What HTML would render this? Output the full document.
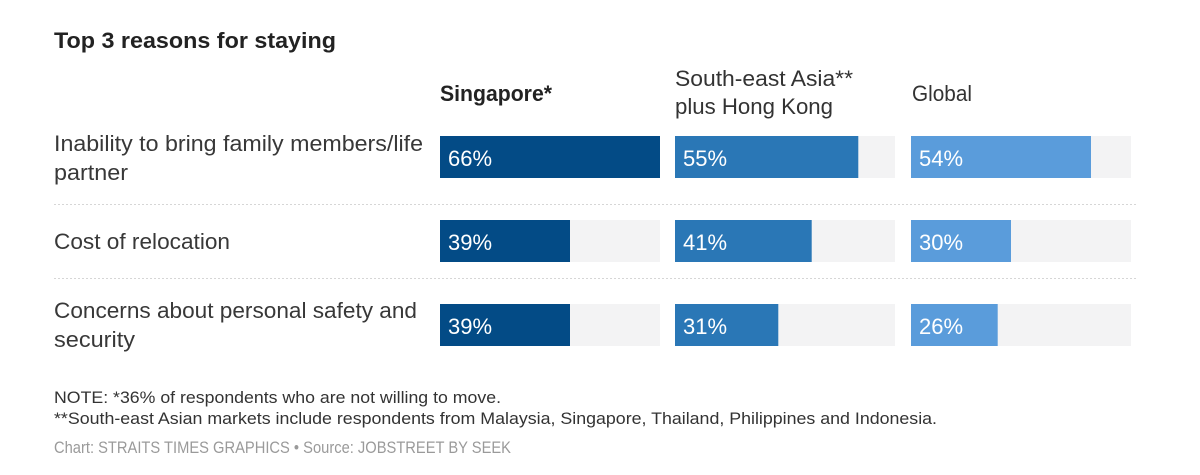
<!DOCTYPE html>
<html>
<head>
<meta charset="utf-8">
<style>
  html, body { margin: 0; padding: 0; background: #ffffff; }
  body { width: 1200px; height: 475px; overflow: hidden; }
  svg { display: block; }
  text { font-family: "Liberation Sans", Arial, sans-serif; }
</style>
</head>
<body>
<svg width="1200" height="475" viewBox="0 0 1200 475" xmlns="http://www.w3.org/2000/svg">
  <rect x="0" y="0" width="1200" height="475" fill="#ffffff"/>

  <!-- Title -->
  <text x="54" y="48" font-size="22" font-weight="bold" fill="#222222" textLength="282" lengthAdjust="spacingAndGlyphs">Top 3 reasons for staying</text>

  <!-- Column headers -->
  <text x="440" y="101" font-size="22" font-weight="bold" fill="#222222" textLength="112" lengthAdjust="spacingAndGlyphs">Singapore*</text>
  <text x="675" y="86" font-size="22" fill="#333333" textLength="178" lengthAdjust="spacingAndGlyphs">South-east Asia**</text>
  <text x="675" y="114" font-size="22" fill="#333333" textLength="158" lengthAdjust="spacingAndGlyphs">plus Hong Kong</text>
  <text x="912" y="101" font-size="22" fill="#333333" textLength="60" lengthAdjust="spacingAndGlyphs">Global</text>

  <!-- Row labels -->
  <text x="54" y="151" font-size="22" fill="#383838" textLength="369" lengthAdjust="spacingAndGlyphs">Inability to bring family members/life</text>
  <text x="54" y="180" font-size="22" fill="#383838" textLength="74" lengthAdjust="spacingAndGlyphs">partner</text>
  <text x="54" y="249" font-size="22" fill="#383838" textLength="176" lengthAdjust="spacingAndGlyphs">Cost of relocation</text>
  <text x="54" y="318" font-size="22" fill="#383838" textLength="363" lengthAdjust="spacingAndGlyphs">Concerns about personal safety and</text>
  <text x="54" y="347" font-size="22" fill="#383838" textLength="81" lengthAdjust="spacingAndGlyphs">security</text>

  <!-- Separators -->
  <line x1="54" y1="204.5" x2="1138" y2="204.5" stroke="#d6d6d6" stroke-width="1" stroke-dasharray="2 2"/>
  <line x1="54" y1="278.5" x2="1138" y2="278.5" stroke="#d6d6d6" stroke-width="1" stroke-dasharray="2 2"/>

  <!-- Tracks -->
  <g fill="#f3f3f4">
    <rect x="440" y="136" width="220" height="42"/>
    <rect x="675" y="136" width="220" height="42"/>
    <rect x="911" y="136" width="220" height="42"/>
    <rect x="440" y="220" width="220" height="42"/>
    <rect x="675" y="220" width="220" height="42"/>
    <rect x="911" y="220" width="220" height="42"/>
    <rect x="440" y="304" width="220" height="42"/>
    <rect x="675" y="304" width="220" height="42"/>
    <rect x="911" y="304" width="220" height="42"/>
  </g>

  <!-- Singapore bars -->
  <g fill="#034b86">
    <rect x="440" y="136" width="220" height="42"/>
    <rect x="440" y="220" width="130" height="42"/>
    <rect x="440" y="304" width="130" height="42"/>
  </g>
  <!-- SEA bars -->
  <g fill="#2a77b6">
    <rect x="675" y="136" width="183.3" height="42"/>
    <rect x="675" y="220" width="136.7" height="42"/>
    <rect x="675" y="304" width="103.3" height="42"/>
  </g>
  <!-- Global bars -->
  <g fill="#5a9cdb">
    <rect x="911" y="136" width="180" height="42"/>
    <rect x="911" y="220" width="100" height="42"/>
    <rect x="911" y="304" width="86.7" height="42"/>
  </g>

  <!-- Bar labels -->
  <g font-size="22" fill="#ffffff">
    <text x="448" y="166">66%</text>
    <text x="683" y="166">55%</text>
    <text x="919" y="166">54%</text>
    <text x="448" y="250">39%</text>
    <text x="683" y="250">41%</text>
    <text x="919" y="250">30%</text>
    <text x="448" y="334">39%</text>
    <text x="683" y="334">31%</text>
    <text x="919" y="334">26%</text>
  </g>

  <!-- Notes -->
  <text x="54" y="403" font-size="17" fill="#333333" textLength="447" lengthAdjust="spacingAndGlyphs">NOTE: *36% of respondents who are not willing to move.</text>
  <text x="54" y="424" font-size="17" fill="#333333" textLength="883" lengthAdjust="spacingAndGlyphs">**South-east Asian markets include respondents from Malaysia, Singapore, Thailand, Philippines and Indonesia.</text>
  <text x="54" y="453" font-size="17" fill="#9a9a9a" textLength="457" lengthAdjust="spacingAndGlyphs">Chart: STRAITS TIMES GRAPHICS • Source: JOBSTREET BY SEEK</text>
</svg>
</body>
</html>
